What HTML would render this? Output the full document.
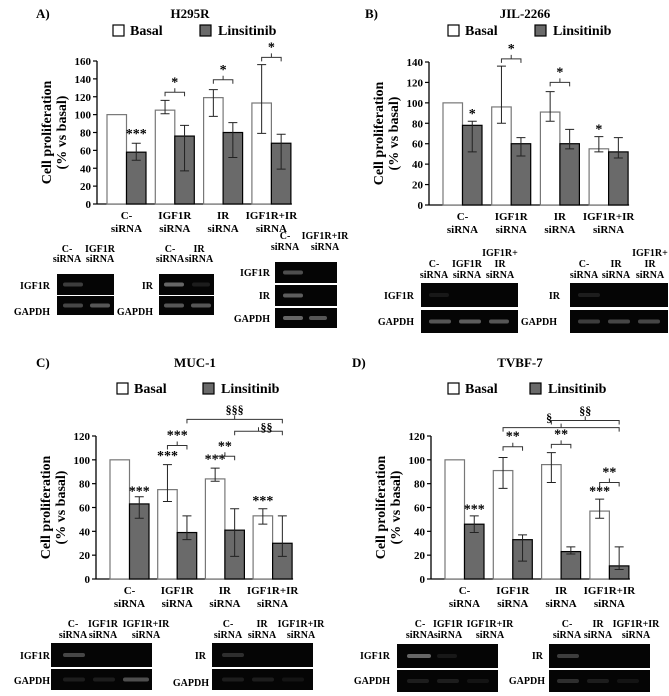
<!DOCTYPE html>
<html><head><meta charset="utf-8">
<style>
html,body{margin:0;padding:0;background:#fff;}
svg{display:block;}
svg text{font-family:"Liberation Serif","DejaVu Serif",serif;font-weight:bold;}
</style></head>
<body>
<svg id="fig" width="669" height="696" viewBox="0 0 669 696" xmlns="http://www.w3.org/2000/svg"></svg>
<script>
const categories = ["C-|siRNA","IGF1R|siRNA","IR|siRNA","IGF1R+IR|siRNA"];
const aBasal = [100,105,119,113];
const aBasalLo = [100,101,98,79];
const aBasalHi = [100,116,128,156];
const aLins = [58,76,80,68];
const aLinsLo = [49,37,52,39];
const aLinsHi = [68,88,91,78];
const aTicks = [0,20,40,60,80,100,120,140,160];
const bBasal = [100,96,91,55];
const bBasalLo = [100,80,82,52];
const bBasalHi = [100,136,111,67];
const bLins = [78,60,60,52];
const bLinsLo = [52,48,55,46];
const bLinsHi = [82,66,74,66];
const bTicks = [0,20,40,60,80,100,120,140];
const cBasal = [100,75,84,53];
const cBasalLo = [100,65,82,46];
const cBasalHi = [100,96,93,59];
const cLins = [63,39,41,30];
const cLinsLo = [51,33,19,19];
const cLinsHi = [69,53,59,53];
const cTicks = [0,20,40,60,80,100,120];
const dBasal = [100,91,96,57];
const dBasalLo = [100,76,81,51];
const dBasalHi = [100,102,106,67];
const dLins = [46,33,23,11];
const dLinsLo = [39,15,21,8];
const dLinsHi = [53,37,27,27];
const dTicks = [0,20,40,60,80,100,120];

const NS="http://www.w3.org/2000/svg";
const svg=document.getElementById('fig');
function mk(tag,attrs,parent){const e=document.createElementNS(NS,tag);for(const k in attrs)e.setAttribute(k,attrs[k]);(parent||svg).appendChild(e);return e;}
function txt(x,y,s,size,anchor,parent){const t=mk('text',{x:x,y:y,'font-size':size,'text-anchor':anchor||'middle','font-family':'Liberation Serif, serif','font-weight':'bold'},parent);t.textContent=s;return t;}

function panel(cfg){
  const g=mk('g',{});
  
  
  const sy=v=>cfg.zeroY-(v/cfg.topVal)*(cfg.zeroY-cfg.topY);
  const bw=19.5;
  const bx=(i,s)=>cfg.bar0+i*cfg.step+s*bw;
  const xEnd=cfg.bar0+3*cfg.step+2*bw+1;
  const l=txt(cfg.letterX,cfg.titleY,cfg.letter,13,'start',g);
  
  const t=txt(cfg.titleX,cfg.titleY,cfg.title,13,'middle',g);
  
  const lg=mk('g',{},g);
  
  mk('rect',{x:cfg.legX,y:cfg.legY-10,width:11,height:11,fill:'#fff',stroke:'#000','stroke-width':1.2},lg);
  txt(cfg.legX+17,cfg.legY,'Basal',14,'start',lg);
  mk('rect',{x:cfg.legX2,y:cfg.legY-10,width:11,height:11,fill:'#6a6a6a',stroke:'#000','stroke-width':1.2},lg);
  txt(cfg.legX2+18,cfg.legY,'Linsitinib',14,'start',lg);
  const ax=mk('g',{},g);
  
  mk('line',{x1:cfg.axisX,y1:sy(cfg.ticks[cfg.ticks.length-1]),x2:cfg.axisX,y2:cfg.zeroY,stroke:'#000','stroke-width':1.3},ax);
  cfg.ticks.forEach(v=>{
    mk('line',{x1:cfg.axisX-4,y1:sy(v),x2:cfg.axisX,y2:sy(v),stroke:'#000','stroke-width':1.2},ax);
    txt(cfg.axisX-6,sy(v)+4,String(v),11,'end',ax);
  });
  const yt=mk('g',{transform:`translate(${cfg.axisX-46},${(cfg.zeroY+sy(cfg.ticks[cfg.ticks.length-1]))/2}) rotate(-90)`},g);
  
  txt(0,0,'Cell proliferation',14,'middle',yt);
  txt(0,15,'(% vs basal)',14,'middle',yt);
  const xa=mk('line',{x1:cfg.axisX,y1:cfg.zeroY,x2:xEnd,y2:cfg.zeroY,stroke:'#000','stroke-width':1.3},g);
  
  categories.forEach((c,i)=>{
    const p=c.split('|');const cx=bx(i,1);
    const a=txt(cx,cfg.zeroY+15,p[0],11,'middle',g);
    
    const b=txt(cx,cfg.zeroY+28,p[1],11,'middle',g);
    
  });
  [[cfg.basal,cfg.bLo,cfg.bHi,'#fff','basal'],[cfg.lins,cfg.lLo,cfg.lHi,'#6a6a6a','linsitinib']].forEach((s,si)=>{
    s[0].forEach((v,i)=>{
      const r=mk('rect',{x:bx(i,si),y:sy(v),width:bw,height:cfg.zeroY-sy(v),fill:s[3],stroke:si?'#000':'#777','stroke-width':1.2},g);
      
      if(s[1][i]!==s[2][i]){
        const cx=bx(i,si)+bw/2;
        const e=mk('path',{d:`M${cx},${sy(s[1][i])}V${sy(s[2][i])}M${cx-4.5},${sy(s[1][i])}H${cx+4.5}M${cx-4.5},${sy(s[2][i])}H${cx+4.5}`,stroke:'#222','stroke-width':1,fill:'none'},g);
        
      }
    });
  });
  cfg.stars.forEach(s=>{
    const x=bx(s[0],s[1])+bw/2;
    const a=txt(x,sy(s[2]),s[3],14,'middle',g);
    
  });
  cfg.brackets.forEach(b=>{
    const x1=bx(b[0],b[1])+bw/2, x2=bx(b[2],b[3])+bw/2, y=sy(b[4]);
    const cx=(x1+x2)/2;
    const p=mk('path',{d:`M${x1},${y+4}V${y}H${x2}V${y+4}M${cx},${y}V${y-4}`,stroke:'#333','stroke-width':1,fill:'none'},g);
    
    const a=txt(cx+(b[6]||0),y-6+(b[7]||0),b[5],b[5].indexOf('§')>=0?12:14,'middle',g);
    
  });
}

panel({name:'panel-a',letter:'A)',letterX:36,title:'H295R',titleX:190,titleY:18,legX:113,legX2:200,legY:35,
  axisX:97,zeroY:204,topY:61,topVal:160,ticks:aTicks,bar0:107,step:48.3,
  basal:aBasal,bLo:aBasalLo,bHi:aBasalHi,lins:aLins,lLo:aLinsLo,lHi:aLinsHi,
  stars:[[0,1,74,'***']],
  brackets:[[1,0,1,1,125,'*'],[2,0,2,1,139,'*'],[3,0,3,1,164,'*']]});
panel({name:'panel-b',letter:'B)',letterX:365,title:'JIL-2266',titleX:525,titleY:18,legX:448,legX2:535,legY:35,
  axisX:429,zeroY:205,topY:62,topVal:140,ticks:bTicks,bar0:443,step:48.7,
  basal:bBasal,bLo:bBasalLo,bHi:bBasalHi,lins:bLins,lLo:bLinsLo,lHi:bLinsHi,
  stars:[[0,1,85,'*'],[3,0,70,'*']],
  brackets:[[1,0,1,1,143,'*'],[2,0,2,1,120,'*']]});
panel({name:'panel-c',letter:'C)',letterX:36,title:'MUC-1',titleX:195,titleY:367,legX:117,legX2:203,legY:393,
  axisX:96,zeroY:579,topY:436,topVal:120,ticks:cTicks,bar0:110,step:47.7,
  basal:cBasal,bLo:cBasalLo,bHi:cBasalHi,lins:cLins,lLo:cLinsLo,lHi:cLinsHi,
  stars:[[0,1,70,'***'],[1,0,100,'***'],[2,0,97,'***'],[3,0,62,'***']],
  brackets:[[1,0,1,1,112,'***'],[2,0,2,1,103,'**'],[1,1,3,1,134,'§§§'],[2,1,3,1,124,'§§',8,6]]});
panel({name:'panel-d',letter:'D)',letterX:352,title:'TVBF-7',titleX:520,titleY:367,legX:448,legX2:530,legY:393,
  axisX:431,zeroY:579,topY:436,topVal:120,ticks:dTicks,bar0:445,step:48.3,
  basal:dBasal,bLo:dBasalLo,bHi:dBasalHi,lins:dLins,lLo:dLinsLo,lHi:dLinsHi,
  stars:[[0,1,55,'***'],[3,0,70,'***']],
  brackets:[[1,0,1,1,111,'**'],[2,0,2,1,113,'**'],[3,0,3,1,81,'**'],[1,0,3,1,127,'§',-12,0],[2,0,3,1,133,'§§']]});

function gel(name,x,y,w,h,bands){
  const g=mk('g',{});
  
  mk('rect',{x:x,y:y,width:w,height:h,fill:'#050505'},g);
  bands.forEach(b=>{mk('rect',{x:x+b[0],y:y+h/2-2,width:b[1],height:4,fill:'#ddd',opacity:b[2]*0.75,rx:2},g);});
}
function lab(x,y,s,anchor){const t=txt(x,y,s,10,anchor||'middle');}
lab(67,252,'C-');lab(67,262,'siRNA');lab(100,252,'IGF1R');lab(100,262,'siRNA');
lab(50,289,'IGF1R','end');lab(50,315,'GAPDH','end');
gel('gel-a1-igf1r',57,274,57,21,[[6,20,0.35]]);gel('gel-a1-gapdh',57,296,57,19,[[6,20,0.4],[33,20,0.5]]);
lab(170,252,'C-');lab(170,262,'siRNA');lab(199,252,'IR');lab(199,262,'siRNA');
lab(153,289,'IR','end');lab(153,315,'GAPDH','end');
gel('gel-a2-ir',159,274,55,21,[[5,20,0.6],[33,18,0.15]]);gel('gel-a2-gapdh',159,296,55,19,[[5,20,0.5],[32,20,0.5]]);
lab(285,239,'C-');lab(285,250,'siRNA');lab(325,239,'IGF1R+IR');lab(325,250,'siRNA');
lab(270,276,'IGF1R','end');lab(270,299,'IR','end');lab(270,322,'GAPDH','end');
gel('gel-a3-igf1r',275,262,62,21,[[8,20,0.45]]);gel('gel-a3-ir',275,285,62,21,[[8,20,0.55]]);gel('gel-a3-gapdh',275,308,62,20,[[8,20,0.6],[34,18,0.5]]);
lab(500,256,'IGF1R+');lab(500,267,'IR');lab(434,267,'C-');lab(434,278,'siRNA');lab(467,267,'IGF1R');lab(467,278,'siRNA');lab(500,278,'siRNA');
lab(414,299,'IGF1R','end');lab(414,325,'GAPDH','end');
gel('gel-b1-igf1r',421,283,97,24,[[8,20,0.12]]);gel('gel-b1-gapdh',421,310,97,23,[[8,22,0.5],[38,22,0.55],[68,20,0.5]]);
lab(650,256,'IGF1R+');lab(650,267,'IR');lab(584,267,'C-');lab(584,278,'siRNA');lab(616,267,'IR');lab(616,278,'siRNA');lab(650,278,'siRNA');
lab(560,299,'IR','end');lab(557,325,'GAPDH','end');
gel('gel-b2-ir',570,283,98,24,[[8,22,0.15]]);gel('gel-b2-gapdh',570,310,98,23,[[8,22,0.35],[38,22,0.4],[68,22,0.4]]);
lab(73,627,'C-');lab(73,638,'siRNA');lab(103,627,'IGF1R');lab(103,638,'siRNA');lab(146,627,'IGF1R+IR');lab(146,638,'siRNA');
lab(50,659,'IGF1R','end');lab(50,684,'GAPDH','end');
gel('gel-c1-igf1r',51,643,101,24,[[12,22,0.4]]);gel('gel-c1-gapdh',51,669,101,21,[[12,22,0.15],[42,22,0.15],[72,26,0.45]]);
lab(228,627,'C-');lab(228,638,'siRNA');lab(262,627,'IR');lab(262,638,'siRNA');lab(301,627,'IGF1R+IR');lab(301,638,'siRNA');
lab(206,659,'IR','end');lab(209,686,'GAPDH','end');
gel('gel-c2-ir',212,643,101,24,[[10,22,0.25]]);gel('gel-c2-gapdh',212,669,101,21,[[10,22,0.15],[40,22,0.15],[70,22,0.1]]);
lab(420,627,'C-');lab(420,638,'siRNA');lab(448,627,'IGF1R');lab(448,638,'siRNA');lab(490,627,'IGF1R+IR');lab(490,638,'siRNA');
lab(390,659,'IGF1R','end');lab(390,684,'GAPDH','end');
gel('gel-d1-igf1r',397,644,101,24,[[10,24,0.6],[40,20,0.12]]);gel('gel-d1-gapdh',397,670,101,22,[[10,22,0.15],[40,22,0.15],[70,22,0.1]]);
lab(567,627,'C-');lab(567,638,'siRNA');lab(598,627,'IR');lab(598,638,'siRNA');lab(636,627,'IGF1R+IR');lab(636,638,'siRNA');
lab(543,659,'IR','end');lab(545,684,'GAPDH','end');
gel('gel-d2-ir',549,644,101,24,[[8,22,0.35]]);gel('gel-d2-gapdh',549,670,101,22,[[8,22,0.25],[38,22,0.15],[68,22,0.1]]);
</script>
</body></html>
